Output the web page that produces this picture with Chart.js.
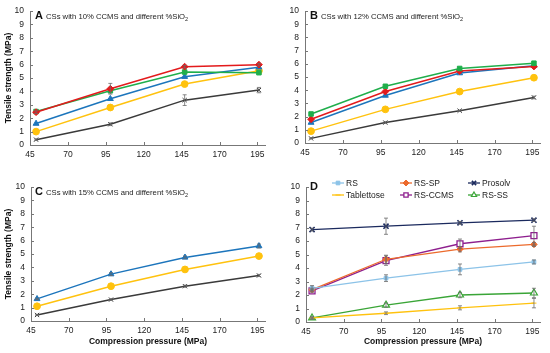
<!DOCTYPE html>
<html>
<head>
<meta charset="UTF-8">
<title>Tensile strength</title>
<script src="https://cdn.jsdelivr.net/npm/chart.js"></script>
<style>
  body { margin: 0; background: #fff; }
  #wrap { position: relative; width: 550px; height: 353px; font-family: "Liberation Sans", Arial, sans-serif; }
  canvas { position: absolute; }
  .ttl { position: absolute; font-size: 7.7px; color: #222; white-space: nowrap; line-height: 10px; }
  .ttl b { font-size: 11px; margin-right: 3px; color: #111; }
  .ttl sub { font-size: 5.5px; vertical-align: -2px; }
</style>
</head>
<body>
<div id="wrap">
  <canvas id="cA" width="275" height="176" style="left:0;top:0"></canvas>
  <canvas id="cB" width="275" height="176" style="left:275px;top:0"></canvas>
  <canvas id="cC" width="275" height="177" style="left:0;top:176px"></canvas>
  <canvas id="cD" width="275" height="177" style="left:275px;top:176px"></canvas>
  <div class="ttl" style="left:35px;top:10px"><b>A</b>CSs with 10% CCMS and different %SiO<sub>2</sub></div>
  <div class="ttl" style="left:310px;top:10px"><b>B</b>CSs with 12% CCMS and different %SiO<sub>2</sub></div>
  <div class="ttl" style="left:35px;top:186px"><b>C</b>CSs with 15% CCMS and different %SiO<sub>2</sub></div>
  <div class="ttl" style="left:310px;top:181px"><b>D</b></div>
</div>
<script>
// compression pressure (MPa)
const pressure = [49, 98, 147, 196];
const xTicks = [45, 70, 95, 120, 145, 170, 195];

// panel A - 10% CCMS
const aRed = [2.45, 4.2, 5.85, 6.0];
const aGreen = [2.5, 4.05, 5.45, 5.4];
const aBlue = [1.6, 3.45, 5.1, 5.8];
const aYellow = [1.0, 2.8, 4.55, 5.55];
const aBlack = [0.4, 1.55, 3.35, 4.1];
const aRedErr = [0.1, 0.4, 0.1, 0.1];
const aBlackErr = [0.05, 0.1, 0.4, 0.2];

// panel B - 12% CCMS
const bGreen = [2.2, 4.3, 5.65, 6.05];
const bRed = [1.8, 3.9, 5.45, 5.8];
const bBlue = [1.55, 3.6, 5.3, 5.85];
const bYellow = [0.9, 2.55, 3.9, 4.95];
const bBlack = [0.35, 1.55, 2.45, 3.45];

// panel C - 15% CCMS
const cBlue = [1.65, 3.5, 4.75, 5.6];
const cYellow = [1.1, 2.6, 3.85, 4.85];
const cBlack = [0.45, 1.6, 2.6, 3.4];

// panel D - comparison
const dRS = [2.5, 3.25, 3.9, 4.45];
const dRSSP = [2.4, 4.65, 5.4, 5.75];
const dProsolv = [6.85, 7.1, 7.35, 7.55];
const dTablettose = [0.3, 0.65, 1.05, 1.4];
const dRSCCMS = [2.3, 4.55, 5.8, 6.4];
const dRSSS = [0.3, 1.25, 2.0, 2.15];
const dRSErr = [0.2, 0.25, 0.4, 0.15];
const dRSSPErr = [0.1, 0.3, 0.2, 0.15];
const dProsolvErr = [0.1, 0.6, 0.1, 0.1];
const dTablettoseErr = [0.05, 0.1, 0.15, 0.35];
const dRSCCMSErr = [0.1, 0.35, 0.35, 0.7];
const dRSSSErr = [0.1, 0.15, 0.2, 0.35];

const FONT = "'Liberation Sans', Arial, sans-serif";
const RED = '#e31a1c', GREEN = '#1fae4b', BLUE = '#1c75bc', YELLOW = '#ffc20e', BLACK = '#3a3a3a';

function ds(label, data, color, style, opts) {
  return Object.assign({
    label: label,
    data: data.map((v, i) => ({ x: pressure[i], y: v })),
    borderColor: color,
    backgroundColor: color,
    borderWidth: 1.5,
    pointStyle: style,
    pointRadius: 3,
    pointBorderWidth: 1,
    errors: null
  }, opts || {});
}

// error bars + inward tick marks
const extras = {
  id: 'extras',
  afterDatasetsDraw(chart) {
    const ctx = chart.ctx, xs = chart.scales.x, ys = chart.scales.y;
    ctx.save();
    chart.data.datasets.forEach(d => {
      if (!d.errors) return;
      ctx.strokeStyle = '#6b6b6b';
      ctx.lineWidth = 0.8;
      d.data.forEach((p, i) => {
        const e = d.errors[i];
        const px = xs.getPixelForValue(p.x);
        const y1 = ys.getPixelForValue(p.y + e), y2 = ys.getPixelForValue(p.y - e);
        ctx.beginPath();
        ctx.moveTo(px, y1); ctx.lineTo(px, y2);
        ctx.moveTo(px - 2, y1); ctx.lineTo(px + 2, y1);
        ctx.moveTo(px - 2, y2); ctx.lineTo(px + 2, y2);
        ctx.stroke();
      });
    });
    ctx.strokeStyle = '#777';
    ctx.lineWidth = 1;
    xs.ticks.forEach(t => {
      const px = Math.round(xs.getPixelForValue(t.value)) + 0.5;
      ctx.beginPath(); ctx.moveTo(px, ys.bottom); ctx.lineTo(px, ys.bottom - 3); ctx.stroke();
    });
    ys.ticks.forEach(t => {
      const py = Math.round(ys.getPixelForValue(t.value)) + 0.5;
      ctx.beginPath(); ctx.moveTo(xs.left, py); ctx.lineTo(xs.left + 3, py); ctx.stroke();
    });
    ctx.restore();
  }
};

// legend for panel D: line with marker, two rows of three
const lineLegend = {
  id: 'lineLegend',
  afterDraw(chart) {
    if (!chart.options.plugins.lineLegend.show) return;
    const ctx = chart.ctx;
    const cols = [57, 125, 193];
    const rows = [7, 19];
    ctx.save();
    chart.data.datasets.forEach((d, i) => {
      const x = cols[i % 3], y = rows[Math.floor(i / 3)];
      ctx.strokeStyle = d.borderColor;
      ctx.lineWidth = d.borderWidth;
      ctx.beginPath(); ctx.moveTo(x, y); ctx.lineTo(x + 12, y); ctx.stroke();
      ctx.fillStyle = d.backgroundColor;
      ctx.lineWidth = d.pointBorderWidth;
      Chart.helpers.drawPoint(ctx, { pointStyle: d.pointStyle, radius: Math.min(d.pointRadius, 3), rotation: 0, borderWidth: d.pointBorderWidth }, x + 6, y);
      ctx.fillStyle = '#222';
      ctx.font = '8.5px ' + FONT;
      ctx.textBaseline = 'middle';
      ctx.fillText(d.label, x + 14, y + 0.5);
    });
    ctx.restore();
  }
};

function makeChart(id, datasets, cfg) {
  return new Chart(document.getElementById(id), {
    type: 'line',
    data: { datasets: datasets },
    plugins: [extras, lineLegend],
    options: {
      responsive: false,
      animation: false,
      layout: { padding: { top: cfg.top, right: cfg.right, left: 0, bottom: 0 } },
      plugins: { legend: { display: false }, tooltip: { enabled: false }, lineLegend: { show: !!cfg.legend } },
      scales: {
        x: {
          type: 'linear', min: 45, max: 200,
          afterBuildTicks: s => { s.ticks = xTicks.map(v => ({ value: v })); },
          afterFit: s => { s.height = cfg.xh; },
          grid: { display: false, drawTicks: false },
          border: { color: '#777', width: 1 },
          ticks: { autoSkip: false, maxRotation: 0, padding: 5, color: '#222', font: { family: FONT, size: 8.5 } },
          title: {
            display: !!cfg.xTitle, text: 'Compression pressure (MPa)', color: '#111',
            font: { family: FONT, size: 8.5, weight: 'bold' }, padding: { top: 0, bottom: 6 }
          }
        },
        y: {
          min: 0, max: 10,
          ticks: { stepSize: 1, autoSkip: false, padding: 6, color: '#222', font: { family: FONT, size: 8.5 } },
          afterFit: s => { s.width = cfg.yw; },
          grid: { display: false, drawTicks: false },
          border: { color: '#777', width: 1 },
          title: {
            display: !!cfg.yTitle, text: 'Tensile strength (MPa)', color: '#111',
            font: { family: FONT, size: 8.5, weight: 'bold' }, padding: { top: 4, bottom: 0 }
          }
        }
      }
    }
  });
}

makeChart('cA', [
  ds('red', aRed, RED, 'rectRot', { pointRadius: 3.4, errors: aRedErr }),
  ds('green', aGreen, GREEN, 'rect', { pointRadius: 3.2 }),
  ds('blue', aBlue, BLUE, 'triangle', { pointRadius: 3.4 }),
  ds('yellow', aYellow, YELLOW, 'circle', { pointRadius: 3.4 }),
  ds('black', aBlack, BLACK, 'crossRot', { errors: aBlackErr })
], { top: 7, right: 10, xh: 31, yw: 30, yTitle: true });

makeChart('cB', [
  ds('green', bGreen, GREEN, 'rect', { pointRadius: 3.2 }),
  ds('red', bRed, RED, 'rectRot', { pointRadius: 3.4 }),
  ds('blue', bBlue, BLUE, 'triangle', { pointRadius: 3.4 }),
  ds('yellow', bYellow, YELLOW, 'circle', { pointRadius: 3.4 }),
  ds('black', bBlack, BLACK, 'crossRot', { errors: [0.03, 0.05, 0.05, 0.1] })
], { top: 7, right: 10, xh: 33, yw: 30 });

makeChart('cC', [
  ds('blue', cBlue, BLUE, 'triangle', { pointRadius: 3.4, errors: [0.05, 0.1, 0.1, 0.15] }),
  ds('yellow', cYellow, YELLOW, 'circle', { pointRadius: 3.4 }),
  ds('black', cBlack, BLACK, 'crossRot', { errors: [0.05, 0.05, 0.08, 0.08] })
], { top: 7, right: 10, xh: 32, yw: 31, yTitle: true, xTitle: true });

makeChart('cD', [
  ds('RS', dRS, '#8cc3e8', 'rect', { borderWidth: 1.3, pointRadius: 2.6, errors: dRSErr }),
  ds('RS-SP', dRSSP, '#ec6a2c', 'rectRot', { borderWidth: 1.3, pointRadius: 3.2, errors: dRSSPErr }),
  ds('Prosolv', dProsolv, '#1b2a5e', 'crossRot', { borderWidth: 1.3, pointRadius: 3.6, pointBorderWidth: 1.6, errors: dProsolvErr }),
  ds('Tablettose', dTablettose, '#ffc20e', 'line', { borderWidth: 1.3, pointRadius: 2.5, errors: dTablettoseErr }),
  ds('RS-CCMS', dRSCCMS, '#8e1f8e', 'rect', { borderWidth: 1.3, pointRadius: 4.2, backgroundColor: '#fff', pointBorderWidth: 1.3, errors: dRSCCMSErr }),
  ds('RS-SS', dRSSS, '#3aa537', 'triangle', { borderWidth: 1.3, pointRadius: 4, backgroundColor: '#fff', pointBorderWidth: 1.2, errors: dRSSSErr })
], { top: 5, right: 10, xh: 31, yw: 31, xTitle: true, legend: true });
</script>
</body>
</html>
